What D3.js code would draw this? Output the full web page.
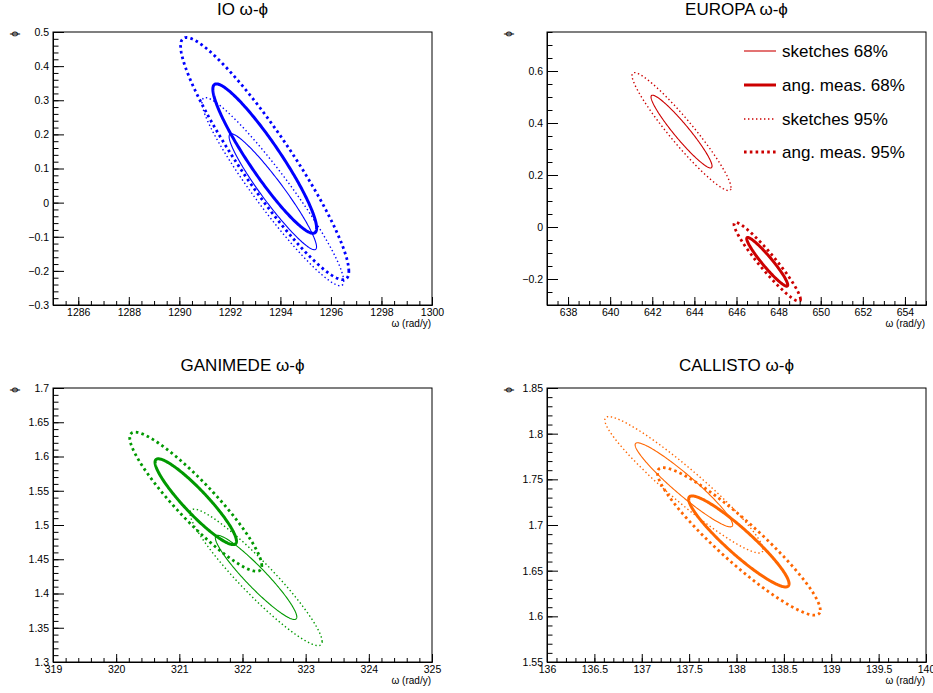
<!DOCTYPE html>
<html>
<head>
<meta charset="utf-8">
<script src="https://cdn.jsdelivr.net/npm/d3@7"></script>
<style>
  body { margin: 0; background: #fff; }
  svg { display: block; font-family: "Liberation Sans", Arial, Helvetica, sans-serif; }
</style>
</head>
<body>
<svg id="chart" width="933" height="693"></svg>
<script>
"use strict";

// panels
const bodies = ["IO", "EUROPA", "GANIMEDE", "CALLISTO"];
const colors = ["#0000ff", "#cc0000", "#009900", "#ff6600"];
const xDomains = [[1285, 1300], [637, 655], [319, 325], [136, 140]];
const yDomains = [[-0.3, 0.5], [-0.3, 0.75], [1.3, 1.7], [1.55, 1.85]];
const xMajor = [
    [1286, 1288, 1290, 1292, 1294, 1296, 1298, 1300],
    [638, 640, 642, 644, 646, 648, 650, 652, 654],
    [319, 320, 321, 322, 323, 324, 325],
    [136, 136.5, 137, 137.5, 138, 138.5, 139, 139.5, 140]
];
const yMajor = [
    [-0.3, -0.2, -0.1, 0, 0.1, 0.2, 0.3, 0.4, 0.5],
    [-0.2, 0, 0.2, 0.4, 0.6],
    [1.3, 1.35, 1.4, 1.45, 1.5, 1.55, 1.6, 1.65, 1.7],
    [1.55, 1.6, 1.65, 1.7, 1.75, 1.8, 1.85]
];
const xMinorStep = [0.5, 0.5, 0.2, 0.1];
const yMinorStep = [0.02, 0.05, 0.01, 0.01];

// sketches: centre, sigmas, correlation
const sketchOmega = [1293.70, 643.39, 322.215, 137.445];
const sketchPhi = [0.032, 0.367, 1.4235, 1.744];
const sketchSigOmega = [1.146, 0.96, 0.427, 0.341];
const sketchSigPhi = [0.1126, 0.0927, 0.0407, 0.0305];
const sketchRho = [-0.95, -0.95, -0.94, -0.95];

// angular measurements
const angOmega = [1293.38, 647.46, 321.26, 138.025];
const angPhi = [0.129, -0.134, 1.534, 1.682];
const angSigOmega = [1.36, 0.645, 0.427, 0.351];
const angSigPhi = [0.145, 0.062, 0.0415, 0.033];
const angRho = [-0.93, -0.95, -0.92, -0.93];

// confidence levels (chi2, 2 dof)
const levels = [0.68, 0.95];
const legendLabels = ["sketches 68%", "ang. meas. 68%", "sketches 95%", "ang. meas. 95%"];

const frames = [
    {x0: 53, x1: 432, y0: 32, y1: 305},
    {x0: 547, x1: 926, y0: 32, y1: 305},
    {x0: 53, x1: 432, y0: 388, y1: 662},
    {x0: 547, x1: 926, y0: 388, y1: 662}
];

const styles = {
    "sketch68": {w: 1.1, dash: null},
    "ang68": {w: 3, dash: null},
    "sketch95": {w: 1.4, dash: "1.4 2.6"},
    "ang95": {w: 2.8, dash: "2.6 3.2"}
};

const svg = d3.select("#chart");

function fmt(d) {
    const s = d3.format("~g")(Math.abs(d));
    return (d < 0 ? "\u2212" : "") + s;
}

function ellipsePoints(cx, cy, sx, sy, rho, level) {
    const k = Math.sqrt(-2 * Math.log(1 - level));
    const q = Math.sqrt(1 - rho * rho);
    return d3.range(0, 360, 1.5).map((a) => {
        const t = a * Math.PI / 180;
        return [cx + k * sx * Math.cos(t), cy + k * sy * (rho * Math.cos(t) + q * Math.sin(t))];
    });
}

bodies.forEach((name, i) => {
    const f = frames[i];
    const x = d3.scaleLinear().domain(xDomains[i]).range([f.x0, f.x1]);
    const y = d3.scaleLinear().domain(yDomains[i]).range([f.y1, f.y0]);
    const g = svg.append("g");
    const fw = f.x1 - f.x0, fh = f.y1 - f.y0;

    // ellipses
    const line = d3.line().x((d) => x(d[0])).y((d) => y(d[1])).curve(d3.curveLinearClosed);
    const sets = [
        {key: "sketch68", pts: ellipsePoints(sketchOmega[i], sketchPhi[i], sketchSigOmega[i], sketchSigPhi[i], sketchRho[i], levels[0])},
        {key: "ang68", pts: ellipsePoints(angOmega[i], angPhi[i], angSigOmega[i], angSigPhi[i], angRho[i], levels[0])},
        {key: "sketch95", pts: ellipsePoints(sketchOmega[i], sketchPhi[i], sketchSigOmega[i], sketchSigPhi[i], sketchRho[i], levels[1])},
        {key: "ang95", pts: ellipsePoints(angOmega[i], angPhi[i], angSigOmega[i], angSigPhi[i], angRho[i], levels[1])}
    ];
    g.selectAll("path.ell").data(sets).join("path")
        .attr("class", "ell")
        .attr("d", (d) => line(d.pts))
        .attr("fill", "none")
        .attr("stroke", colors[i])
        .attr("stroke-width", (d) => styles[d.key].w)
        .attr("stroke-dasharray", (d) => styles[d.key].dash);

    // frame
    g.append("rect")
        .attr("x", f.x0).attr("y", f.y0).attr("width", fw).attr("height", fh)
        .attr("fill", "none").attr("stroke", "#000").attr("stroke-width", 1);

    // axes, ticks inside the frame like ROOT
    const xMinor = d3.range(xDomains[i][0], xDomains[i][1] + 1e-9, xMinorStep[i]);
    const yMinor = d3.range(yDomains[i][0], yDomains[i][1] + 1e-9, yMinorStep[i]);

    g.append("g").attr("transform", `translate(0,${f.y1})`)
        .call(d3.axisBottom(x).tickValues(xMinor).tickSize(-4).tickSizeOuter(0).tickFormat(""));
    g.append("g").attr("transform", `translate(0,${f.y1})`)
        .call(d3.axisBottom(x).tickValues(xMajor[i]).tickSize(-8).tickSizeOuter(0).tickPadding(3.5).tickFormat(fmt));
    g.append("g").attr("transform", `translate(${f.x0},0)`)
        .call(d3.axisLeft(y).tickValues(yMinor).tickSize(-5.5).tickSizeOuter(0).tickFormat(""));
    g.append("g").attr("transform", `translate(${f.x0},0)`)
        .call(d3.axisLeft(y).tickValues(yMajor[i]).tickSize(-11).tickSizeOuter(0).tickPadding(4).tickFormat(fmt));

    g.selectAll(".tick text").attr("font-size", 10.5).attr("fill", "#000")
        .attr("font-family", "\"Liberation Sans\", Arial, sans-serif");
    g.selectAll(".domain").attr("stroke", "#000");
    g.selectAll(".tick line").attr("stroke", "#000");

    // titles
    g.append("text")
        .attr("x", (f.x0 + f.x1) / 2).attr("y", f.y0 - 17)
        .attr("text-anchor", "middle").attr("font-size", 17)
        .text(`${name} \u03c9-\u03d5`);
    g.append("text")
        .attr("x", f.x1 - 1).attr("y", f.y1 + 22)
        .attr("text-anchor", "end").attr("font-size", 10)
        .text("\u03c9 (rad/y)");
    g.append("text")
        .attr("transform", `translate(${f.x0 - 39},${f.y0 + 2}) rotate(-90)`)
        .attr("text-anchor", "middle").attr("dy", "0.35em").attr("font-size", 10)
        .text("\u03d5");
});

// legend in EUROPA panel
const legendKeys = ["sketch68", "ang68", "sketch95", "ang95"];
const leg = svg.append("g").attr("transform", "translate(744,0)");
const rowY = [51, 85, 119, 152];
legendKeys.forEach((k, j) => {
    leg.append("line")
        .attr("x1", 0).attr("x2", 32).attr("y1", rowY[j]).attr("y2", rowY[j])
        .attr("stroke", colors[1])
        .attr("stroke-width", styles[k].w)
        .attr("stroke-dasharray", styles[k].dash);
    leg.append("text")
        .attr("x", 38).attr("y", rowY[j]).attr("dy", "0.36em")
        .attr("font-size", 17)
        .text(legendLabels[j]);
});
</script>
</body>
</html>
